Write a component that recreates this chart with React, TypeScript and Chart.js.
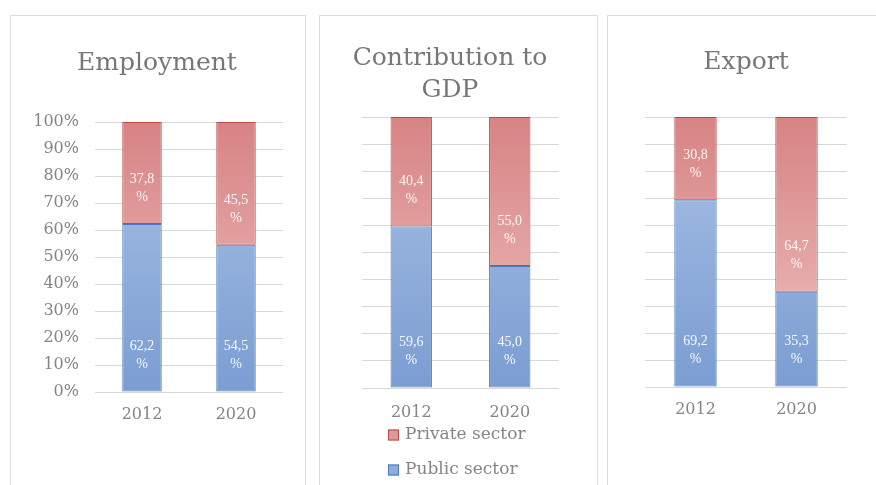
import React, { useEffect, useRef } from 'react';
import { Chart, registerables } from 'chart.js';

Chart.register(...registerables);

// ---------- data ----------
const categories = ['2012', '2020'];
const publicLabel = 'Public sector';
const privateLabel = 'Private sector';

const employmentPublic = [62.2, 54.5];
const employmentPrivate = [37.8, 45.5];

const gdpPublic = [59.6, 45.0];
const gdpPrivate = [40.4, 55.0];

const exportPublic = [69.2, 35.3];
const exportPrivate = [30.8, 64.7];

const yTickValues = [0, 10, 20, 30, 40, 50, 60, 70, 80, 90, 100];

// ---------- styles ----------
const SERIF = '"DejaVu Serif", "Liberation Serif", serif';
const GRID = '#d9d9d9';
const TEXT = '#858585';
const TITLE = '#777777';
const BLUE_TOP = '#a9c1e6';
const BLUE_BOTTOM = '#7b9dd2';
const BLUE_BORDER = '#4a7bbb';
const RED_TOP = '#d78383';
const RED_BOTTOM = '#f0c2c2';
const RED_BORDER = '#b94a48';

const gradient = (top: string, bottom: string, fallback: string) => (ctx: any) => {
  const chart = ctx.chart;
  const area = chart.chartArea;
  if (!area) return fallback;
  const g = chart.ctx.createLinearGradient(0, area.top, 0, area.bottom);
  g.addColorStop(0, top);
  g.addColorStop(1, bottom);
  return g;
};

const valueLabels = {
  id: 'valueLabels',
  afterDatasetsDraw(chart: any) {
    const ctx = chart.ctx;
    ctx.save();
    ctx.font = '14px "Liberation Serif", serif';
    ctx.fillStyle = 'rgba(255,255,255,0.92)';
    ctx.textAlign = 'center';
    ctx.textBaseline = 'middle';
    chart.data.datasets.forEach((ds: any, di: number) => {
      const meta = chart.getDatasetMeta(di);
      meta.data.forEach((el: any, i: number) => {
        const { x, base } = el.getProps(['x', 'base'], true);
        const v = ds.data[i] as number;
        const cy = base - 36;
        ctx.fillText(v.toFixed(1).replace('.', ','), x, cy - 9);
        ctx.fillText('%', x, cy + 9);
      });
    });
    ctx.restore();
  },
};

const stackedLegend = {
  id: 'stackedLegend',
  afterDraw(chart: any) {
    const opts = chart.options.plugins.stackedLegend;
    if (!opts || !opts.display) return;
    const ctx = chart.ctx;
    const area = chart.chartArea;
    const items = chart.data.datasets.map((ds: any) => ds).slice().reverse();
    ctx.save();
    ctx.font = `17px ${SERIF}`;
    ctx.textBaseline = 'middle';
    ctx.textAlign = 'left';
    items.forEach((ds: any, i: number) => {
      const cy = area.bottom + 47 + i * 35;
      const bx = area.left + 26;
      ctx.fillStyle = ds.legendColor;
      ctx.fillRect(bx, cy - 5.5, 11, 11);
      ctx.strokeStyle = ds.borderColor;
      ctx.lineWidth = 1;
      ctx.strokeRect(bx + 0.5, cy - 5, 10, 10);
      ctx.fillStyle = TEXT;
      ctx.fillText(ds.label, bx + 17, cy);
    });
    ctx.restore();
  },
};

type PanelSpec = {
  title: string | string[];
  pub: number[];
  priv: number[];
  left: number;
  width: number;
  canvasWidth: number;
  showYLabels: boolean;
  showLegend: boolean;
  padLeft: number;
  padRight: number;
  padBottom: number;
  yAxisWidth: number;
  titleTop: number;
  titleBottom: number;
  xTickPad: number;
};

const CANVAS_H = 469;

function Panel({ spec }: { spec: PanelSpec }) {
  const ref = useRef<HTMLCanvasElement | null>(null);
  useEffect(() => {
    if (!ref.current) return;
    const chart = new Chart(ref.current, {
      type: 'bar',
      data: {
        labels: categories,
        datasets: [
          {
            label: publicLabel,
            data: spec.pub,
            backgroundColor: gradient(BLUE_TOP, BLUE_BOTTOM, '#8eabd9'),
            borderColor: BLUE_BORDER,
            borderWidth: 1,
            borderSkipped: false,
            categoryPercentage: 1,
            barPercentage: 0.42,
            legendColor: '#8eabd9',
          } as any,
          {
            label: privateLabel,
            data: spec.priv,
            backgroundColor: gradient(RED_TOP, RED_BOTTOM, '#df9797'),
            borderColor: RED_BORDER,
            borderWidth: 1,
            borderSkipped: false,
            categoryPercentage: 1,
            barPercentage: 0.42,
            legendColor: '#df9797',
          } as any,
        ],
      },
      options: {
        responsive: false,
        animation: false,
        devicePixelRatio: 1,
        layout: {
          padding: { left: spec.padLeft, right: spec.padRight, top: 0, bottom: spec.padBottom },
        },
        plugins: {
          legend: { display: false },
          tooltip: { enabled: false },
          title: {
            display: true,
            text: spec.title,
            color: TITLE,
            font: { family: SERIF, size: 25, weight: 'normal', lineHeight: 1.28 },
            padding: { top: spec.titleTop, bottom: spec.titleBottom },
          },
          stackedLegend: { display: spec.showLegend },
        } as any,
        scales: {
          x: {
            stacked: true,
            grid: { display: false, drawTicks: false },
            border: { display: false },
            ticks: {
              color: TEXT,
              font: { family: SERIF, size: 16 },
              padding: spec.xTickPad,
            },
            afterFit: (s: any) => {
              s.height = 40;
            },
          },
          y: {
            stacked: true,
            min: 0,
            max: 100,
            afterBuildTicks: (s: any) => {
              s.ticks = yTickValues.map((v) => ({ value: v }));
            },
            grid: { color: GRID, lineWidth: 1, drawTicks: false },
            border: { display: false },
            ticks: {
              display: spec.showYLabels,
              color: TEXT,
              font: { family: SERIF, size: 16 },
              padding: 16,
              callback: (v: any) => `${v}%`,
            },
            afterFit: (s: any) => {
              s.width = spec.yAxisWidth;
            },
          },
        },
      },
      plugins: [valueLabels, stackedLegend],
    });
    return () => chart.destroy();
  }, [spec]);

  return (
    <div
      style={{
        position: 'absolute',
        left: spec.left,
        top: 15,
        width: spec.width,
        height: 500,
        border: '1px solid #dcdcdc',
        boxSizing: 'border-box',
        background: '#ffffff',
        overflow: 'hidden',
      }}
    >
      <canvas
        ref={ref}
        width={spec.canvasWidth}
        height={CANVAS_H}
        style={{ display: 'block', width: spec.canvasWidth, height: CANVAS_H }}
      />
    </div>
  );
}

const panels: PanelSpec[] = [
  {
    title: 'Employment',
    pub: employmentPublic,
    priv: employmentPrivate,
    left: 10,
    width: 296,
    canvasWidth: 293,
    showYLabels: true,
    showLegend: false,
    padLeft: 20,
    padRight: 21,
    padBottom: 53,
    yAxisWidth: 64,
    titleTop: 31,
    titleBottom: 43,
    xTickPad: 13,
  },
  {
    title: ['Contribution to', 'GDP'],
    pub: gdpPublic,
    priv: gdpPrivate,
    left: 319,
    width: 279,
    canvasWidth: 276,
    showYLabels: false,
    showLegend: true,
    padLeft: 21,
    padRight: 37,
    padBottom: 57,
    yAxisWidth: 21,
    titleTop: 26,
    titleBottom: 11,
    xTickPad: 15,
  },
  {
    title: 'Export',
    pub: exportPublic,
    priv: exportPrivate,
    left: 607,
    width: 290,
    canvasWidth: 268,
    showYLabels: false,
    showLegend: false,
    padLeft: 37,
    padRight: 29,
    padBottom: 58,
    yAxisWidth: 0,
    titleTop: 30,
    titleBottom: 39,
    xTickPad: 13,
  },
];

export default function App() {
  return (
    <div
      style={{
        position: 'fixed',
        left: 0,
        top: 0,
        width: 876,
        height: 485,
        overflow: 'hidden',
        background: '#ffffff',
      }}
    >
      {panels.map((p, i) => (
        <Panel key={i} spec={p} />
      ))}
    </div>
  );
}
